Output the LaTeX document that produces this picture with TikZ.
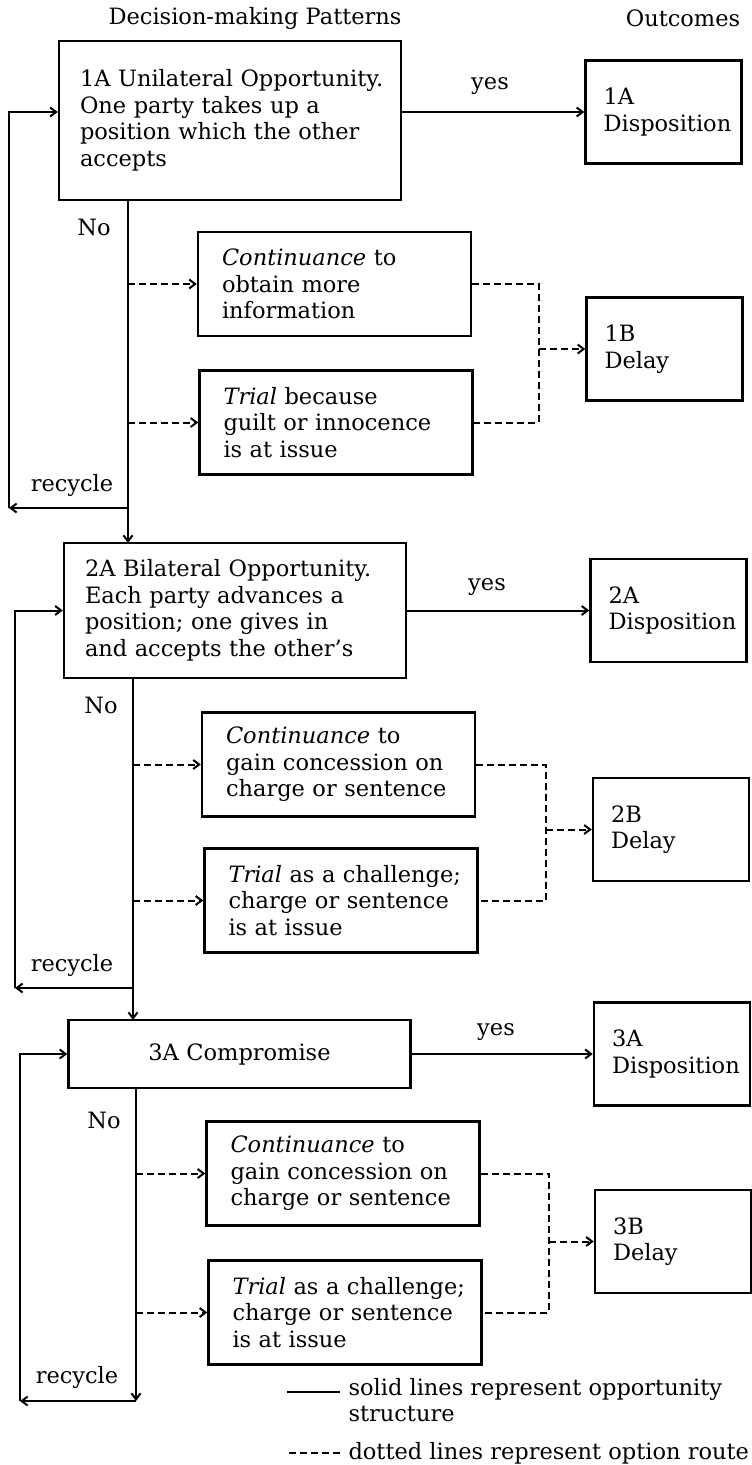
\documentclass[tikz,border=0pt]{standalone}
\usepackage{fontspec}
\setmainfont{DejaVu Serif}
\usepackage{tikz}
\usetikzlibrary{arrows.meta}

\tikzset{
  every node/.style={font=\fontsize{22.5}{26.5}\selectfont},
  patbox/.style={draw,line width=2.4pt,minimum height=#1,inner xsep=8pt,text width=326pt,align=left,
    execute at begin node={\leftskip=13pt}},
  midbox/.style={draw,line width=2.4pt,minimum height=#1,inner xsep=8pt,text width=326pt,align=center},
  optbox/.style={draw,line width=2.4pt,minimum height=104pt,inner xsep=10pt,text width=253pt,align=left,
    execute at begin node={\leftskip=14pt}},
  outbox/.style={draw,line width=2.4pt,minimum height=103pt,inner xsep=6pt,text width=144pt,align=left,
    execute at begin node={\leftskip=12pt}},
  flow/.style={line width=2pt,-{Straight Barb[length=6pt,width=9pt]}},
  optarrow/.style={flow,dash pattern=on 7pt off 4pt},
  optline/.style={line width=2pt,dash pattern=on 7pt off 4pt}
}

\begin{document}
\begin{tikzpicture}[x=1pt,y=-1pt]
	\useasboundingbox (0,0) rectangle (752,1465);
	\node (hpat) at (255,18) {Decision-making Patterns};
	\node (hout) at (683,18) {Outcomes};

	\node[patbox=159pt] (p1) at (230,120.5) {1A Unilateral Opportunity.\\One party takes up a\\position which the other\\accepts};
	\node[outbox] (d1) at (663.5,112) {1A\\Disposition};
	\node (yes1) at (490,86) {yes};
	\node (no1) at (94,227) {No};
	\node[optbox] (c1) at (334.5,284) {\textit{Continuance} to\\obtain more\\information};
	\node[optbox] (t1) at (336,422.5) {\textit{Trial} because\\guilt or innocence\\is at issue};
	\node[outbox] (dl1) at (664.5,349) {1B\\Delay};
	\node (rec1) at (72,485) {recycle};
	\coordinate (m1) at (128,508);
	\coordinate (r1) at (9,508);
	\coordinate (j1) at (539,349);
	\draw[flow] (p1.east |- d1.west) -- (d1.west);
	\draw[flow] (m1 |- p1.south) -- (m1 |- 0,543);
	\draw[flow] (m1) -- (r1);
	\draw[flow] (r1) |- (p1.west |- d1.west);
	\draw[optarrow] (m1 |- c1.west) -- (c1.west);
	\draw[optarrow] (m1 |- t1.west) -- (t1.west);
	\draw[optline] (c1.east) -| (j1) |- (t1.east);
	\draw[optarrow] (j1) -- (dl1.west);

	\node[patbox=135pt] (p2) at (235,610.5) {2A Bilateral Opportunity.\\Each party advances a\\position; one gives in\\and accepts the other's};
	\node[outbox] (d2) at (668.5,610.5) {2A\\Disposition};
	\node (yes2) at (487,587) {yes};
	\node (no2) at (101,705) {No};
	\node[optbox] (c2) at (338.5,764.5) {\textit{Continuance} to\\gain concession on\\charge or sentence};
	\node[optbox] (t2) at (341,900.5) {\textit{Trial} as a challenge;\\charge or sentence\\is at issue};
	\node[outbox] (dl2) at (671,829.5) {2B\\Delay};
	\node (rec2) at (72,965) {recycle};
	\coordinate (m2) at (133,988);
	\coordinate (r2) at (15,988);
	\coordinate (j2) at (546,829.5);
	\draw[flow] (p2.east) -- (d2.west);
	\draw[flow] (m2 |- p2.south) -- (m2 |- 0,1020);
	\draw[flow] (m2) -- (r2);
	\draw[flow] (r2) |- (p2.west);
	\draw[optarrow] (m2 |- c2.west) -- (c2.west);
	\draw[optarrow] (m2 |- t2.west) -- (t2.west);
	\draw[optline] (c2.east) -| (j2) |- (t2.east);
	\draw[optarrow] (j2) -- (dl2.west);

	\node[midbox=68pt] (p3) at (239.5,1054) {3A Compromise};
	\node[outbox] (d3) at (672,1054) {3A\\Disposition};
	\node (yes3) at (496,1032) {yes};
	\node (no3) at (104,1120) {No};
	\node[optbox] (c3) at (343,1173.5) {\textit{Continuance} to\\gain concession on\\charge or sentence};
	\node[optbox] (t3) at (345,1312.5) {\textit{Trial} as a challenge;\\charge or sentence\\is at issue};
	\node[outbox] (dl3) at (673,1241.5) {3B\\Delay};
	\node (rec3) at (77,1377) {recycle};
	\coordinate (m3) at (136,1401);
	\coordinate (r3) at (20,1401);
	\coordinate (j3) at (549,1241.5);
	\draw[flow] (p3.east) -- (d3.west);
	\draw[flow] (m3 |- p3.south) -- (m3);
	\draw[flow] (m3) -- (r3);
	\draw[flow] (r3) |- (p3.west);
	\draw[optarrow] (m3 |- c3.west) -- (c3.west);
	\draw[optarrow] (m3 |- t3.west) -- (t3.west);
	\draw[optline] (c3.east) -| (j3) |- (t3.east);
	\draw[optarrow] (j3) -- (dl3.west);

	\coordinate (ls1) at (287,1392);
	\coordinate (ls2) at (340,1392);
	\coordinate (ld1) at (289,1453);
	\coordinate (ld2) at (340,1453);
	\draw[line width=2pt] (ls1) -- (ls2);
	\draw[optline] (ld1) -- (ld2);
	\node[anchor=west,align=left] (lsolid) at (345,1400) {solid lines represent opportunity\\structure};
	\node[anchor=west] (ldot) at (345,1453) {dotted lines represent option route};
\end{tikzpicture}
\end{document}
